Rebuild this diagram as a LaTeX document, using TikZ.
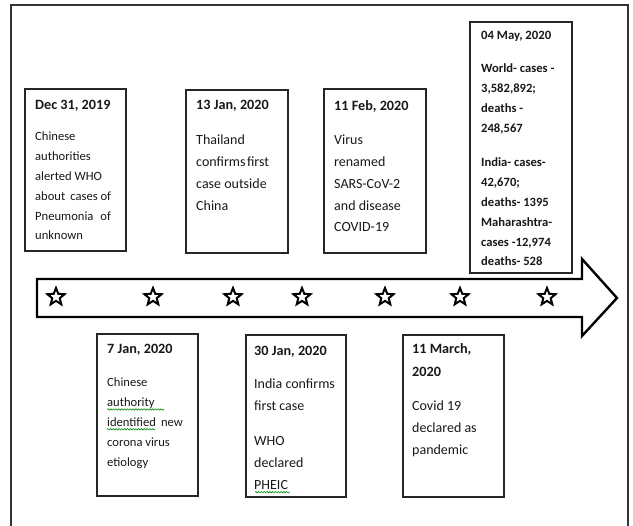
\documentclass[tikz,border=0pt]{standalone}
\usepackage{fontspec}
\setmainfont{Carlito}
\usetikzlibrary{shapes.geometric,decorations.pathmorphing}
\begin{document}
\begin{tikzpicture}[x=1pt,y=-1pt,
  boxnode/.style={draw=black!85, line width=1.3pt, fill=white, anchor=north west, inner sep=0pt, outer sep=0pt},
  datetext/.style={anchor=base west, inner sep=0pt, text=black!90, font=\fontsize{14.2}{17}\selectfont\bfseries},
  bodysmall/.style={anchor=base west, inner sep=0pt, text=black!90, font=\fontsize{12.6}{15}\selectfont},
  bodylarge/.style={anchor=base west, inner sep=0pt, text=black!90, font=\fontsize{14}{17}\selectfont},
  statdate/.style={anchor=base west, inner sep=0pt, text=black!90, font=\fontsize{12.7}{15}\selectfont\bfseries},
  stattext/.style={anchor=base west, inner sep=0pt, text=black!90, font=\fontsize{12.6}{15}\selectfont\bfseries},
  staricon/.style={star, star points=5, star point ratio=2.3, draw=black, line width=2pt, minimum size=18pt, inner sep=0pt},
  squiggle/.style={draw=green!55!black, line width=0.6pt, decorate, decoration={snake, amplitude=0.7pt, segment length=2.8pt}}
]
\useasboundingbox (0,0) rectangle (633,526);
\clip (0,0) rectangle (633,526);
\fill[white] (0,0) rectangle (633,526);
% outer frame
\draw[black!80, line width=1.2pt] (11,540) -- (11,5) -- (628,5) -- (628,540);

% timeline arrow
\draw[black, line width=2.4pt, line join=miter] (37,279) -- (582,279) -- (582,259) -- (617,298) -- (582,336) -- (582,317) -- (37,317) -- cycle;
\foreach \sx [count=\i] in {56,153,233,302,385,460,547}
  \node[staricon] (star\i) at (\sx,297) {};

% boxes
\node[boxnode, minimum width=101pt, minimum height=162pt] (b1) at (25,89) {};
\node[boxnode, minimum width=102pt, minimum height=163pt] (b2) at (186,90) {};
\node[boxnode, minimum width=102pt, minimum height=164pt] (b3) at (324,89) {};
\node[boxnode, minimum width=102pt, minimum height=251pt] (b4) at (470,22) {};
\node[boxnode, minimum width=101pt, minimum height=162pt] (b5) at (97,334) {};
\node[boxnode, minimum width=100pt, minimum height=162pt] (b6) at (246,335) {};
\node[boxnode, minimum width=101pt, minimum height=162pt] (b7) at (403,335) {};

% box 1
\node[datetext] (t1d) at (35,110) {Dec 31, 2019};
\node[bodysmall] (t1a) at (35,141) {Chinese};
\node[bodysmall] (t1b) at (35,160.8) {authorities};
\node[bodysmall] (t1c) at (35,180.6) {alerted WHO};
\node[bodysmall] (t1e) at (35,200.4) {about\hspace{5pt}cases of};
\node[bodysmall] (t1f) at (35,220.2) {Pneumonia\hspace{7pt}of};
\node[bodysmall] (t1g) at (35,240) {unknown};

% box 2
\node[datetext] (t2d) at (196,110) {13 Jan, 2020};
\node[bodylarge] (t2a) at (196,145) {Thailand};
\node[bodylarge] (t2b) at (196,166.7) {confirms\hspace{1.5pt}first};
\node[bodylarge] (t2c) at (196,188.4) {case outside};
\node[bodylarge] (t2e) at (196,210.1) {China};

% box 3
\node[datetext] (t3d) at (334,111) {11 Feb, 2020};
\node[bodylarge] (t3a) at (334,145) {Virus};
\node[bodylarge] (t3b) at (334,166.7) {renamed};
\node[bodylarge] (t3c) at (334,188.4) {SARS-CoV-2};
\node[bodylarge] (t3e) at (334,210.1) {and disease};
\node[bodylarge] (t3f) at (334,231.8) {COVID-19};

% box 4
\node[statdate] (t4d) at (481,40) {04 May, 2020};
\node[stattext] (t4a) at (481,73) {World- cases -};
\node[stattext] (t4b) at (481,92.8) {3,582,892;};
\node[stattext] (t4c) at (481,112.6) {deaths -};
\node[stattext] (t4e) at (481,132.4) {248,567};
\node[stattext] (t4f) at (481,167) {India- cases-};
\node[stattext] (t4g) at (481,186.8) {42,670;};
\node[stattext] (t4h) at (481,206.6) {deaths- 1395};
\node[stattext] (t4i) at (481,226.4) {Maharashtra-};
\node[stattext] (t4j) at (481,246.2) {cases -12,974};
\node[stattext] (t4k) at (481,266) {deaths- 528};

% box 5
\node[datetext] (t5d) at (107,354) {7 Jan, 2020};
\node[bodysmall] (t5a) at (107,387) {Chinese};
\node[bodysmall] (t5b) at (107,406.8) {authority};
\node[bodysmall] (t5c) at (107,426.6) {identified\hspace{5pt}new};
\node[bodysmall] (t5e) at (107,446.4) {corona virus};
\node[bodysmall] (t5f) at (107,466.2) {etiology};
\coordinate (sq1a) at (107,409.5);
\coordinate (sq1b) at (164,409.5);
\coordinate (sq2a) at (107,429.3);
\coordinate (sq2b) at (155,429.3);
\draw[squiggle] (sq1a) -- (sq1b);
\draw[squiggle] (sq2a) -- (sq2b);

% box 6
\node[datetext] (t6d) at (254,356) {30 Jan, 2020};
\node[bodylarge] (t6a) at (254,389) {India confirms};
\node[bodylarge] (t6b) at (254,410.7) {first case};
\node[bodylarge] (t6c) at (254,446) {WHO};
\node[bodylarge] (t6e) at (254,467.7) {declared};
\node[bodylarge] (t6f) at (254,489.4) {PHEIC};
\coordinate (sq3a) at (255,492.2);
\coordinate (sq3b) at (290,492.2);
\draw[squiggle] (sq3a) -- (sq3b);

% box 7
\node[datetext] (t7d) at (412,354) {11 March,};
\node[datetext] (t7e) at (412,376.5) {2020};
\node[bodylarge] (t7a) at (412,411) {Covid 19};
\node[bodylarge] (t7b) at (412,432.7) {declared as};
\node[bodylarge] (t7c) at (412,454.4) {pandemic};
\end{tikzpicture}
\end{document}
